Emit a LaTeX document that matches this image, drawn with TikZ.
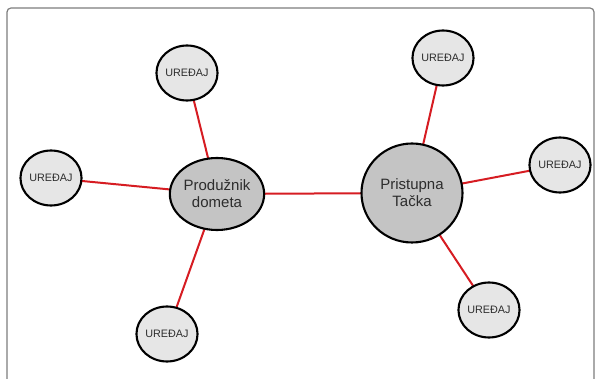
\documentclass[tikz,border=0pt]{standalone}
\usepackage{fontspec}
\setmainfont{Liberation Sans}
\usepackage{tikz}
\usetikzlibrary{shapes.geometric, backgrounds}

\definecolor{linkred}{RGB}{214,28,34}
\definecolor{devfill}{RGB}{230,230,230}
\definecolor{hubfill}{RGB}{196,196,196}
\definecolor{txtgray}{RGB}{45,45,45}
\definecolor{framegray}{RGB}{125,125,125}

\begin{document}
\begin{tikzpicture}[
        x=1pt, y=-1pt,
        dev/.style={ellipse, draw=black, line width=2.1pt, fill=devfill,
          minimum width=60pt, minimum height=55pt, inner sep=0pt,
          text=txtgray, font=\fontsize{10.8}{12}\selectfont},
        hub/.style={ellipse, draw=black, line width=2.1pt, fill=hubfill,
          inner sep=0pt, align=center, text=txtgray,
          font=\fontsize{15}{17}\selectfont},
        link/.style={draw=linkred, line width=2pt}
      ]
        \useasboundingbox (0,0) rectangle (595,379);
        \draw[framegray, line width=1.2pt, rounded corners=4pt] (7,8) rectangle (594,395);

        \node[hub, minimum width=79pt, minimum height=72pt] (ext) at (217,194) {Produžnik\\dometa};
        \node[hub, minimum width=101pt, minimum height=99pt] (ap) at (412,193) {Pristupna\\Tačka};

        \node[dev] (d1) at (187,73) {UREĐAJ};
        \node[dev] (d2) at (51,178) {UREĐAJ};
        \node[dev] (d3) at (167,334) {UREĐAJ};
        \node[dev] (d4) at (443,58) {UREĐAJ};
        \node[dev] (d5) at (560,165) {UREĐAJ};
        \node[dev] (d6) at (489,310) {UREĐAJ};

        % red links, kept under the circles
        \begin{scope}[on background layer]
          \foreach \d in {d1,d2,d3} \draw[link] (ext.center) -- (\d.center);
          \foreach \d in {d4,d5,d6} \draw[link] (ap.center) -- (\d.center);
          \draw[link] (ext.center) -- (ap.center);
        \end{scope}
      \end{tikzpicture}
\end{document}
